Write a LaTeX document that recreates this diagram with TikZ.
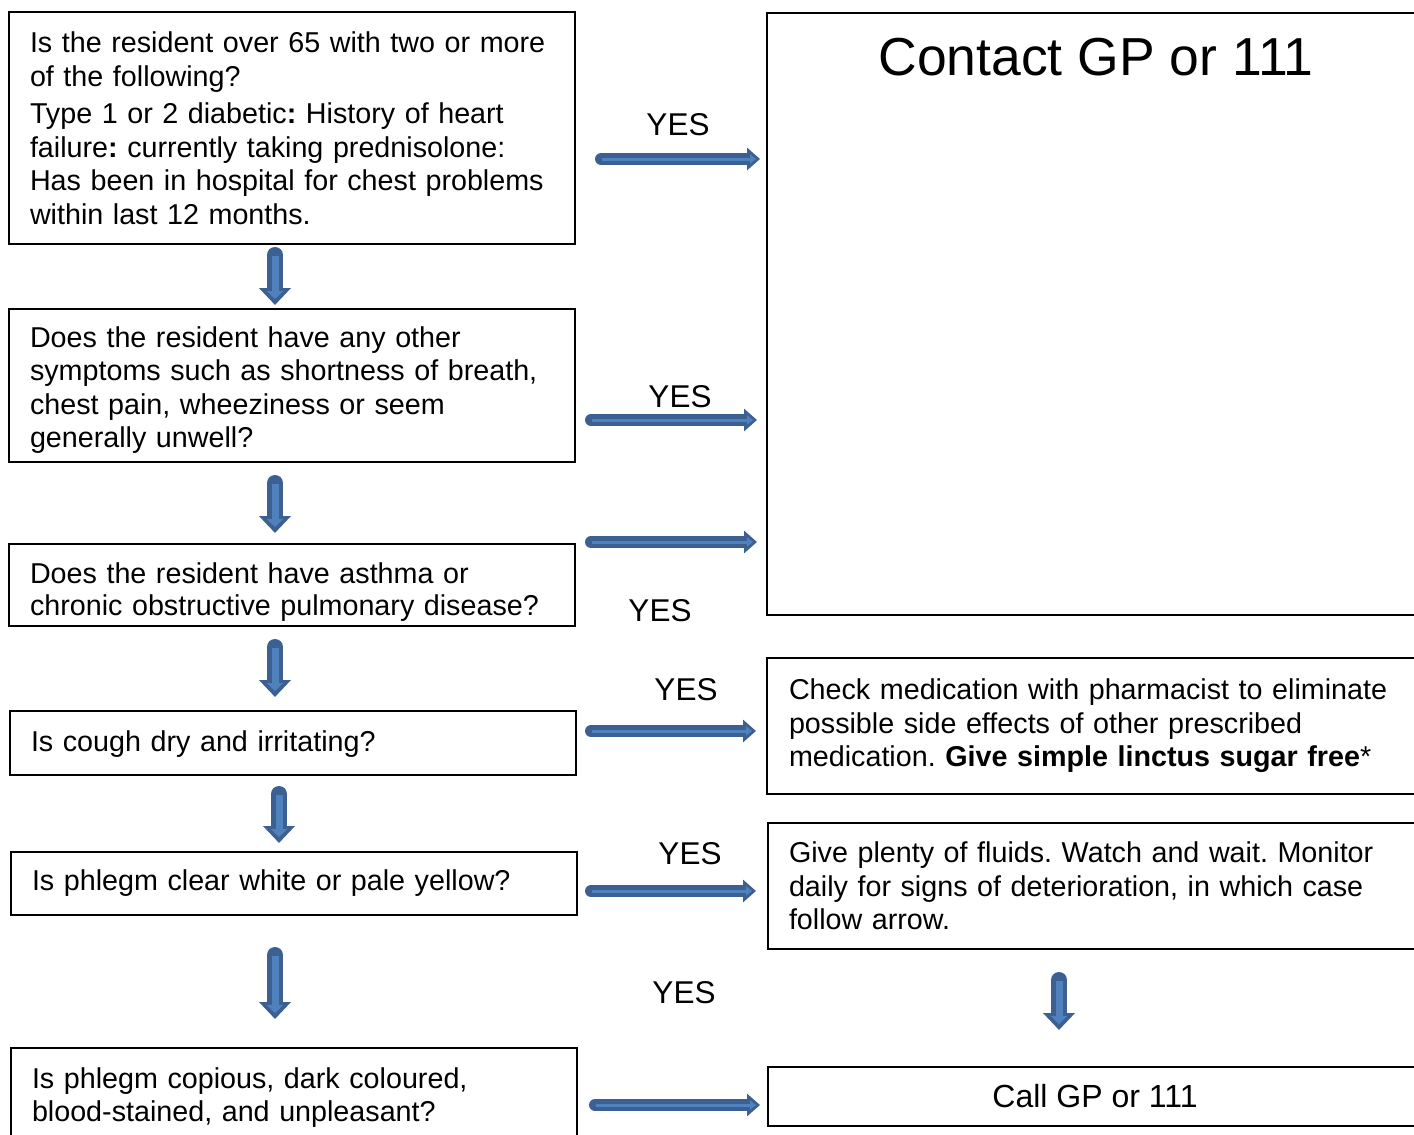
\documentclass[tikz,border=0pt]{standalone}
\usepackage{fontspec}
\setmainfont{Liberation Sans}
\usetikzlibrary{arrows.meta}
\definecolor{adark}{HTML}{3B6091}
\definecolor{alight}{HTML}{4F81BD}
\begin{document}
\frenchspacing
\begin{tikzpicture}[x=1pt,y=-1pt,
  qbox/.style={draw=black, line width=1.8pt, anchor=north west, inner xsep=21pt, inner ysep=0pt, outer sep=0pt, align=left, font=\fontsize{28.7}{33.5}\selectfont},
  yeslabel/.style={font=\fontsize{31.5}{34}\selectfont, inner sep=0pt},
  hout/.style={adark, line width=12pt, line cap=round, -{Triangle[length=13pt,width=22pt]}},
  hin/.style={alight, line width=3pt, shorten <=1pt, shorten >=4pt, -{Triangle[length=6pt,width=9pt]}},
  vout/.style={adark, line width=16pt, line cap=round, -{Triangle[length=17pt,width=31pt]}},
  vin/.style={alight, line width=7pt, shorten <=1pt, shorten >=6pt, -{Triangle[length=8pt,width=16pt]}}
]
\useasboundingbox (0,0) rectangle (1414,1135);
\clip (0,0) rectangle (1414,1135);
\fill[white] (0,0) rectangle (1414,1135);

% left question boxes
\node[qbox, text width=524pt, minimum height=232pt] (q1) at (9,12)
 {Is the resident over 65 with two or more\\ of the following?\\[4pt]
  Type 1 or 2 diabetic\textbf{:} History of heart\\ failure\textbf{:} currently taking prednisolone:\\
  Has been in hospital for chest problems\\ within last 12 months.};
\node[qbox, text width=524pt, minimum height=153pt] (q2) at (9,309)
 {\rule{0pt}{30pt}Does the resident have any other\\ symptoms such as shortness of breath,\\ chest pain, wheeziness or seem\\ generally unwell?};
\node[qbox, text width=524pt, minimum height=82pt, font=\fontsize{28.7}{32}\selectfont] (q3) at (9,544)
 {\rule{0pt}{35pt}Does the resident have asthma or\\ chronic obstructive pulmonary disease?};
\node[qbox, text width=524pt, minimum height=64pt] (q4) at (10,711)
 {\rule{0pt}{23pt}Is cough dry and irritating?};
\node[qbox, text width=524pt, minimum height=63pt] (q5) at (11,852)
 {Is phlegm clear white or pale yellow?};
\node[qbox, text width=524pt, minimum height=92pt] (q6) at (11,1048)
 {\rule{0pt}{28pt}Is phlegm copious, dark coloured,\\ blood-stained, and unpleasant?};

% right boxes
\node[qbox, minimum width=655pt, minimum height=602pt, inner xsep=0pt] (ra) at (767,13) {};
\node[font=\fontsize{53.5}{60}\selectfont, inner sep=0pt] (title) at (1096,57) {Contact GP or 111};
\node[qbox, inner xsep=22pt, text width=611pt, minimum height=136pt] (rb) at (767,658)
 {Check medication with pharmacist to eliminate\\ possible side effects of other prescribed\\ medication. \textbf{Give simple linctus sugar free}*};
\node[qbox, inner xsep=21pt, text width=612pt, minimum height=126pt] (rc) at (768,823)
 {Give plenty of fluids. Watch and wait. Monitor\\ daily for signs of deterioration, in which case\\ follow arrow.};
\node[qbox, inner xsep=0pt, minimum width=654pt, minimum height=59pt, align=center, font=\fontsize{32}{36}\selectfont] (rd) at (768,1067)
 {Call GP or 111};

% YES labels
\node[yeslabel] (y1) at (678,125) {YES};
\node[yeslabel] (y2) at (680,397) {YES};
\node[yeslabel] (y3) at (660,611) {YES};
\node[yeslabel] (y4) at (686,690) {YES};
\node[yeslabel] (y5) at (690,854) {YES};
\node[yeslabel] (y6) at (684,993) {YES};

% arrow end points
\coordinate (h1s) at (601,159);  \coordinate (h1e) at (760,159);
\coordinate (h2s) at (591,420);  \coordinate (h2e) at (757,420);
\coordinate (h3s) at (591,542);  \coordinate (h3e) at (757,542);
\coordinate (h4s) at (591,731);  \coordinate (h4e) at (756,731);
\coordinate (h5s) at (591,891);  \coordinate (h5e) at (756,891);
\coordinate (h6s) at (595,1105); \coordinate (h6e) at (760,1105);
\coordinate (v1s) at (275,255);  \coordinate (v1e) at (275,305);
\coordinate (v2s) at (275,483);  \coordinate (v2e) at (275,533);
\coordinate (v3s) at (275,647);  \coordinate (v3e) at (275,697);
\coordinate (v4s) at (279,794);  \coordinate (v4e) at (279,843);
\coordinate (v5s) at (275,955);  \coordinate (v5e) at (275,1019);
\coordinate (v6s) at (1059,980); \coordinate (v6e) at (1059,1030);

\foreach \a in {h1,h2,h3,h4,h5,h6}{
  \draw[hout] (\a s) -- (\a e);
  \draw[hin] (\a s) -- (\a e);
}
\foreach \a in {v1,v2,v3,v4,v5,v6}{
  \draw[vout] (\a s) -- (\a e);
  \draw[vin] (\a s) -- (\a e);
}
\end{tikzpicture}
\end{document}
